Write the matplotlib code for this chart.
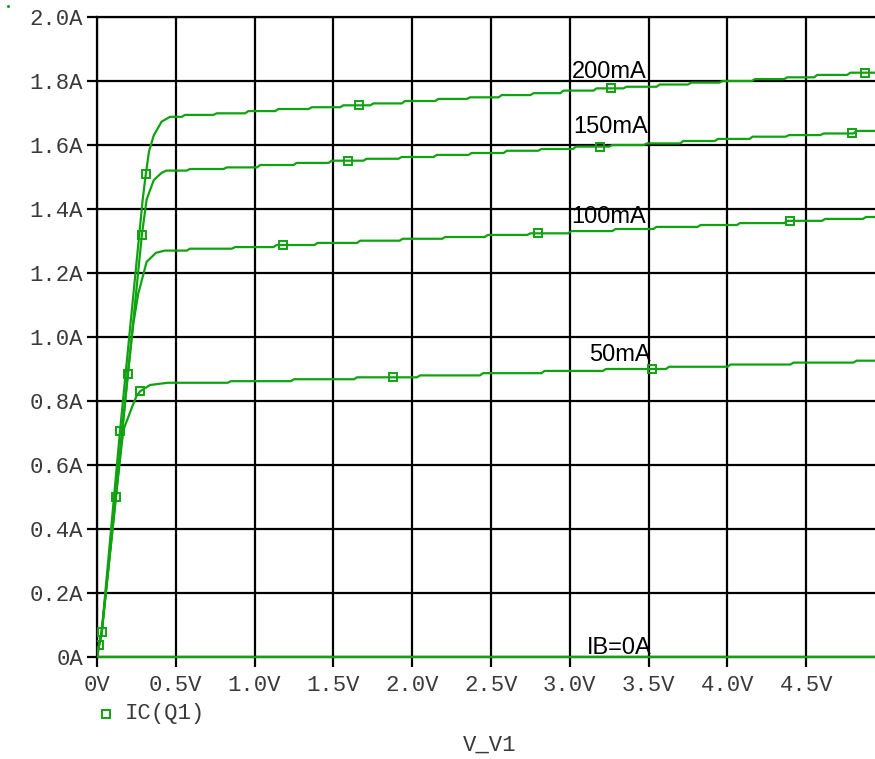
import numpy as np
import matplotlib
matplotlib.use("Agg")
import matplotlib.pyplot as plt
from matplotlib.lines import Line2D

# ---- data: collector current IC(Q1) vs sweep voltage V_V1, one trace per IB ----
V_END = 4.95

ib_labels = ["IB=0A", "50mA", "100mA", "150mA", "200mA"]

# IB = 0 trace (flat)
ib0_v = [0.0, V_END]
ib0_i = [0.0, 0.0]

# saturation region (rising part) of each trace
rise50_v = [0.0, 0.013, 0.03, 0.12, 0.167, 0.22, 0.25, 0.273, 0.336]
rise50_i = [0.0, 0.0375, 0.078, 0.50, 0.709, 0.778, 0.815, 0.83, 0.85]
rise100_v = [0.0, 0.013, 0.03, 0.12, 0.195, 0.23, 0.262, 0.315, 0.374]
rise100_i = [0.0, 0.0375, 0.078, 0.50, 0.884, 1.04, 1.136, 1.235, 1.263]
rise150_v = [0.0, 0.013, 0.03, 0.12, 0.2, 0.285, 0.315, 0.36, 0.41]
rise150_i = [0.0, 0.0375, 0.078, 0.516, 0.9, 1.32, 1.43, 1.49, 1.513]
rise200_v = [0.0, 0.013, 0.03, 0.146, 0.29, 0.31, 0.33, 0.36, 0.41]
rise200_i = [0.0, 0.0375, 0.078, 0.706, 1.43, 1.51, 1.58, 1.63, 1.673]

# active region: simulator output steps (start voltage, level)
step50_v = [0.45, 0.85, 1.25, 1.65, 2.05, 2.45, 2.84, 3.23, 3.63, 4.02, 4.42, 4.82]
step50_i = [0.857, 0.862, 0.868, 0.874, 0.880, 0.887, 0.894, 0.900, 0.907, 0.914, 0.920, 0.926]
step100_v = [0.43, 0.59, 0.876, 1.14, 1.40, 1.67, 1.94, 2.21, 2.48, 2.75, 3.01, 3.29,
             3.55, 3.83, 4.08, 4.38, 4.62, 4.88]
step100_i = [1.270, 1.276, 1.281, 1.2875, 1.294, 1.301, 1.307, 1.3125, 1.319, 1.324, 1.331,
             1.3375, 1.344, 1.350, 1.356, 1.363, 1.369, 1.375]
step150_v = [0.44, 0.59, 0.823, 1.035, 1.267, 1.489, 1.711, 1.933, 2.156, 2.377, 2.60, 2.82,
             3.04, 3.27, 3.49, 3.72, 3.94, 4.16, 4.39, 4.61, 4.82]
step150_i = [1.520, 1.525, 1.530, 1.5375, 1.544, 1.551, 1.557, 1.5625, 1.569, 1.575, 1.582,
             1.5875, 1.595, 1.600, 1.605, 1.6125, 1.619, 1.626, 1.631, 1.636, 1.644]
step200_v = [0.463, 0.558, 0.759, 0.960, 1.151, 1.363, 1.563, 1.754, 1.954, 2.166, 2.367, 2.568,
             2.77, 2.96, 3.17, 3.36, 3.57, 3.77, 3.97, 4.175, 4.38, 4.57, 4.78]
step200_i = [1.688, 1.694, 1.699, 1.706, 1.7125, 1.718, 1.724, 1.730, 1.7375, 1.744, 1.749, 1.756,
             1.762, 1.770, 1.777, 1.782, 1.789, 1.795, 1.800, 1.806, 1.8115, 1.819, 1.826]

# voltages where the trace symbol is placed
mark50_v = [0.013, 0.12, 0.273, 1.88, 3.52]
mark100_v = [0.03, 0.195, 1.18, 2.80, 4.40]
mark150_v = [0.285, 1.59, 3.19, 4.79]
mark200_v = [0.146, 0.31, 1.66, 3.26, 4.87]

# label anchor (left, baseline) for each trace
label_v = [3.107, 3.12, 3.01, 3.02, 3.01]
label_i = [0.009, 0.925, 1.356, 1.636, 1.809]

x_ticks = [0.0, 0.5, 1.0, 1.5, 2.0, 2.5, 3.0, 3.5, 4.0, 4.5]
x_ticklabels = ["0V", "0.5V", "1.0V", "1.5V", "2.0V", "2.5V", "3.0V", "3.5V", "4.0V", "4.5V"]
y_ticks = [0.0, 0.2, 0.4, 0.6, 0.8, 1.0, 1.2, 1.4, 1.6, 1.8, 2.0]
y_ticklabels = ["0A", "0.2A", "0.4A", "0.6A", "0.8A", "1.0A", "1.2A", "1.4A", "1.6A", "1.8A", "2.0A"]

GREEN = "#10A310"
MONO = "Liberation Mono"
SANS = "Liberation Sans"
TICK_COLOR = "#3a3a3a"
RAMP = 0.02  # width of the short slope between two output levels


def trace(rise_v, rise_i, step_v, step_i):
    xs, ys = list(rise_v), list(rise_i)
    for k, (v, i) in enumerate(zip(step_v, step_i)):
        last = k + 1 == len(step_v)
        nxt = V_END if last else step_v[k + 1] - RAMP
        xs += [v, nxt]
        ys += [i, i]
    return np.array(xs), np.array(ys)


fig = plt.figure(figsize=(8.75, 7.59), dpi=100)
ax = fig.add_axes([97 / 875, 102 / 759, 778 / 875, 640 / 759])
ax.set_xlim(0, 778 / 157.6)
ax.set_ylim(0, 2.0)

ax.set_xticks(x_ticks)
ax.set_xticklabels(x_ticklabels)
ax.set_yticks(y_ticks)
ax.set_yticklabels(y_ticklabels)
ax.tick_params(axis="both", direction="out", length=7, width=1.6, color="black",
               labelsize=16, labelcolor=TICK_COLOR)
ax.tick_params(axis="x", pad=6)
ax.tick_params(axis="y", pad=3)
for lab in ax.get_xticklabels() + ax.get_yticklabels():
    lab.set_fontfamily(MONO)

ax.grid(True, color="black", linewidth=1.6, zorder=1)
ax.set_axisbelow(True)
for side in ["left", "top", "bottom"]:
    ax.spines[side].set_linewidth(1.6)
    ax.spines[side].set_color("black")
ax.spines["right"].set_visible(False)

# IB = 0 trace
ax.plot(ib0_v, ib0_i, color=GREEN, lw=1.6, zorder=3, clip_on=False, solid_capstyle="butt")

curves = [
    (rise50_v, rise50_i, step50_v, step50_i, mark50_v),
    (rise100_v, rise100_i, step100_v, step100_i, mark100_v),
    (rise150_v, rise150_i, step150_v, step150_i, mark150_v),
    (rise200_v, rise200_i, step200_v, step200_i, mark200_v),
]
for rv, ri, sv, si, mv in curves:
    xs, ys = trace(rv, ri, sv, si)
    ax.plot(xs, ys, color=GREEN, lw=1.6, zorder=3)
    ax.plot(mv, np.interp(mv, xs, ys), ls="none", marker="s", ms=6.2,
            mfc="none", mec=GREEN, mew=1.4, zorder=4)

for text, lv, li in zip(ib_labels, label_v, label_i):
    ax.text(lv, li, text, family=SANS, fontsize=17, color="black",
            ha="left", va="baseline", zorder=5)

# legend entry and sweep-variable caption
fig.add_artist(Line2D([106 / 875], [1 - 714 / 759], transform=fig.transFigure,
                      marker="s", ms=5.5, mfc="none", mec=GREEN, mew=1.4, ls="none"))
fig.text(125 / 875, 1 - 714 / 759, "IC(Q1)", family=MONO, fontsize=16,
         color=TICK_COLOR, ha="left", va="center")
fig.text(490 / 875, 1 - 745 / 759, "V_V1", family=MONO, fontsize=16,
         color=TICK_COLOR, ha="center", va="center")
fig.add_artist(Line2D([8 / 875], [1 - 6 / 759], transform=fig.transFigure,
                      marker="o", ms=1.2, color=GREEN, ls="none"))

fig.savefig("out.png", dpi=100)
